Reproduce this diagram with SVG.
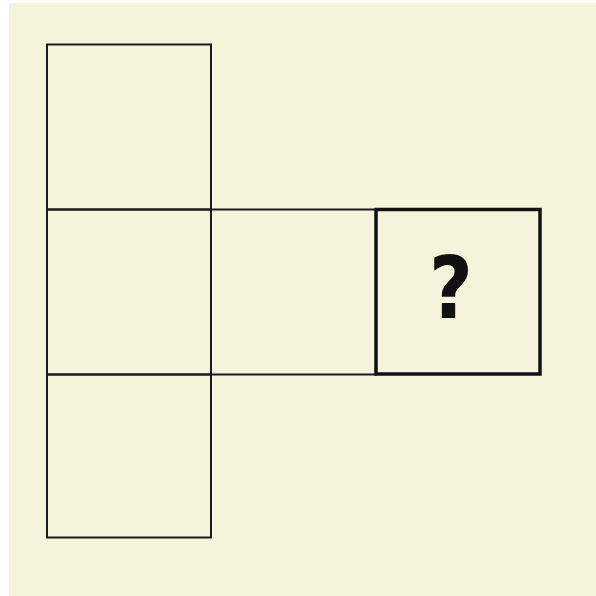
<svg xmlns="http://www.w3.org/2000/svg" width="596" height="596" viewBox="0 0 596 596">
<style>
.cell{fill:none;stroke:#1a1a1a;stroke-width:2}
.q{fill:none;stroke:#111;stroke-width:3.5}
.qt{font-family:"DejaVu Sans",sans-serif;font-weight:bold;font-size:86px;fill:#111;text-anchor:middle}
</style>
<rect x="0" y="0" width="596" height="596" fill="#ffffff"/>
<rect x="9" y="3" width="587" height="593" fill="#f4f4dc"/>
<g id="sq-top"><rect class="cell" x="47" y="44.5" width="164" height="165"/></g>
<g id="sq-mid-left"><rect class="cell" x="47" y="209.5" width="164" height="165"/></g>
<g id="sq-bottom"><rect class="cell" x="47" y="374.5" width="164" height="163"/></g>
<g id="sq-mid"><rect class="cell" x="211" y="209.5" width="165" height="165"/></g>
<g id="sq-question"><rect class="q" x="376" y="209.5" width="164" height="164.5"/><text class="qt" transform="translate(451,318) scale(0.88,1)" x="0" y="0">?</text></g>
</svg>
